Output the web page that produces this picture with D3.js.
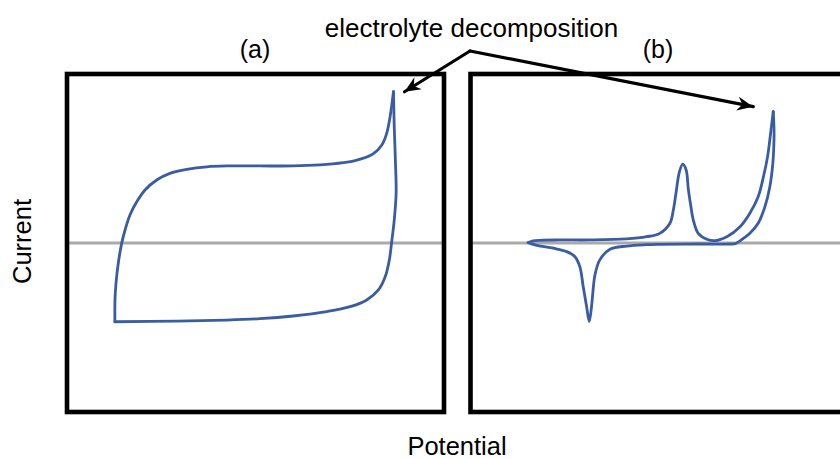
<!DOCTYPE html>
<html>
<head>
<meta charset="utf-8">
<script src="https://cdn.jsdelivr.net/npm/d3@7"></script>
<style>
  html, body { margin: 0; padding: 0; background: #fff; }
  svg { display: block; }
  text { font-family: "Liberation Sans", Arial, Helvetica, sans-serif; fill: #000; }
</style>
</head>
<body>
<svg id="chart" width="840" height="459"></svg>
<script>
// Panel titles and axis captions
const panelLabels = ["(a)", "(b)"];
const xAxisTitle = "Potential";
const yAxisTitle = "Current";
const annotation = "electrolyte decomposition";

// (a) capacitive electrode: forward (anodic) and reverse scans, [potential, current]
const scanAForward = [
  [1.27, -0.466], [1.273, -0.337], [1.30, -0.238], [1.36, -0.12], [1.45, -0.002],
  [1.54, 0.077], [1.67, 0.166], [1.85, 0.244], [2.07, 0.314], [2.38, 0.373],
  [2.73, 0.412], [3.18, 0.436], [3.71, 0.451], [4.24, 0.456], [5.12, 0.456],
  [6.00, 0.456], [6.71, 0.462], [7.33, 0.475], [7.64, 0.487], [8.12, 0.527],
  [8.35, 0.58], [8.48, 0.649], [8.57, 0.747], [8.66, 0.895]
];
const scanAReverse = [
  [8.66, 0.895], [8.68, 0.688], [8.71, 0.491], [8.73, 0.294], [8.68, 0.136],
  [8.61, 0.002], [8.55, -0.10], [8.44, -0.20], [8.26, -0.278], [7.95, -0.337],
  [7.51, -0.377], [6.89, -0.406], [6.00, -0.432], [5.12, -0.448], [4.24, -0.456],
  [2.91, -0.462], [1.27, -0.466]
];

// (b) faradaic electrode with redox peaks
const scanBForward = [
  [1.53, 0.002], [1.66, 0.012], [1.84, 0.016], [2.37, 0.018], [3.17, 0.018],
  [4.14, 0.024], [4.67, 0.037], [5.02, 0.057], [5.29, 0.117], [5.38, 0.195],
  [5.45, 0.294], [5.54, 0.42], [5.63, 0.467], [5.72, 0.432], [5.78, 0.314],
  [5.84, 0.225], [5.91, 0.136], [6.04, 0.057], [6.27, 0.022], [6.49, 0.014],
  [6.80, 0.037], [7.15, 0.096], [7.41, 0.176], [7.63, 0.274], [7.77, 0.392],
  [7.88, 0.511], [7.96, 0.649], [8.03, 0.777]
];
const scanBReverse = [
  [8.03, 0.777], [8.05, 0.68], [8.05, 0.609], [8.02, 0.472], [7.94, 0.333],
  [7.81, 0.215], [7.63, 0.117], [7.41, 0.057], [7.24, 0.028], [7.02, -0.004],
  [6.96, -0.006], [6.09, -0.006],
  [5.03, -0.008], [4.67, -0.01], [4.14, -0.018], [3.70, -0.037], [3.43, -0.10],
  [3.30, -0.19], [3.26, -0.259], [3.21, -0.377], [3.15, -0.464], [3.08, -0.377],
  [2.99, -0.259], [2.90, -0.14], [2.77, -0.081], [2.55, -0.051], [2.20, -0.031],
  [1.76, -0.014], [1.53, 0.002]
];

const panels = [
  { label: panelLabels[0], left: 67, scans: [scanAForward, scanAReverse], labelX: 255 },
  { label: panelLabels[1], left: 470.5, scans: [scanBForward, scanBReverse], labelX: 658 }
];

const svg = d3.select("#chart");
const frameTop = 74, frameBottom = 412, panelW = 377;

const y = d3.scaleLinear().domain([-1, 1]).range([frameBottom, frameTop]);

// arrowhead for the annotation leaders
svg.append("defs").append("marker")
  .attr("id", "head")
  .attr("markerUnits", "userSpaceOnUse")
  .attr("viewBox", "-18 -9 20 18")
  .attr("refX", 0).attr("refY", 0)
  .attr("markerWidth", 20).attr("markerHeight", 18)
  .attr("orient", "auto")
  .append("path")
  .attr("d", "M0,0 L-16,-7 L-11,0 L-16,7 Z")
  .attr("fill", "#000");

const line = d3.line().curve(d3.curveCatmullRom.alpha(0.5));

const anchors = [];

panels.forEach(p => {
  const x = d3.scaleLinear().domain([0, 10]).range([p.left, p.left + panelW]);
  const g = svg.append("g");

  g.append("rect")
    .attr("x", p.left).attr("y", frameTop)
    .attr("width", panelW).attr("height", frameBottom - frameTop)
    .attr("fill", "#fff");

  // zero-current baseline
  g.append("line")
    .attr("x1", x(0)).attr("x2", x(10))
    .attr("y1", y(0)).attr("y2", y(0))
    .attr("stroke", "#aaaaaa").attr("stroke-width", 3);

  line.x(d => x(d[0])).y(d => y(d[1]));
  p.scans.forEach(s => {
    g.append("path")
      .attr("d", line(s))
      .attr("fill", "none")
      .attr("stroke", "#3a5ca3")
      .attr("stroke-width", 2.8)
      .attr("stroke-linejoin", "round")
      .attr("stroke-linecap", "round");
  });

  g.append("rect")
    .attr("x", p.left).attr("y", frameTop)
    .attr("width", panelW).attr("height", frameBottom - frameTop)
    .attr("fill", "none")
    .attr("stroke", "#000").attr("stroke-width", 4.6);

  g.append("text")
    .attr("x", p.labelX).attr("y", 58)
    .attr("text-anchor", "middle")
    .attr("font-size", 25)
    .text(p.label);

  // decomposition peak: the last point of the forward scan
  const peak = p.scans[0][p.scans[0].length - 1];
  anchors.push([x(peak[0]), y(peak[1])]);
});

// annotation text and leaders
svg.append("text")
  .attr("x", 471.5).attr("y", 37)
  .attr("text-anchor", "middle")
  .attr("font-size", 26)
  .text(annotation);

const apex = [470, 51];
const tips = [[anchors[0][0] + 11, anchors[0][1]], [anchors[1][0] - 20, anchors[1][1] - 5]];
tips.forEach(t => {
  svg.append("line")
    .attr("x1", apex[0]).attr("y1", apex[1])
    .attr("x2", t[0]).attr("y2", t[1])
    .attr("stroke", "#000").attr("stroke-width", 3.2)
    .attr("stroke-linecap", "round")
    .attr("marker-end", "url(#head)");
});

// axis captions
svg.append("text")
  .attr("x", 457).attr("y", 455)
  .attr("text-anchor", "middle")
  .attr("font-size", 25.5)
  .text(xAxisTitle);

svg.append("text")
  .attr("transform", "translate(31,241.5) rotate(-90)")
  .attr("text-anchor", "middle")
  .attr("font-size", 25.5)
  .text(yAxisTitle);
</script>
</body>
</html>
